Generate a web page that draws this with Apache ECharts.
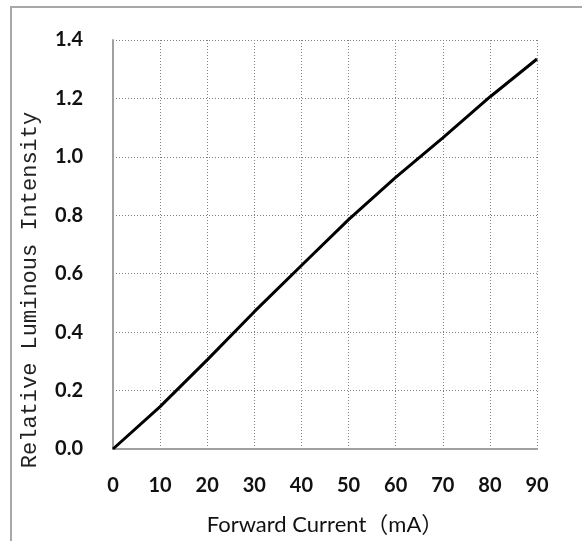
<!DOCTYPE html>
<html>
<head>
<meta charset="utf-8">
<script src="https://cdn.jsdelivr.net/npm/echarts@6/dist/echarts.min.js"></script>
<style>
  html, body { margin: 0; padding: 0; background: #fff; }
  #chart { width: 582px; height: 541px; position: absolute; left: 0; top: 0; }
  #frame { position: absolute; left: 10px; top: 6px; width: 580px; height: 540px;
           border-left: 2px solid #a8a8a8; border-top: 2px solid #a8a8a8; pointer-events: none; }
</style>
</head>
<body>
<div id="chart"></div>
<div id="frame"></div>
<script>
const currentMA = [0, 10, 20, 30, 40, 50, 60, 70, 80, 90];
const relIntensity = [0, 0.145, 0.305, 0.47, 0.628, 0.785, 0.93, 1.065, 1.205, 1.335];
const xTicks = [0, 10, 20, 30, 40, 50, 60, 70, 80, 90];
const yTicks = [0.0, 0.2, 0.4, 0.6, 0.8, 1.0, 1.2, 1.4];
const xTitle = 'Forward Current（mA）';
const yTitle = 'Relative Luminous Intensity';

const chart = echarts.init(document.getElementById('chart'), null, { renderer: 'canvas' });
const gridStyle = { show: true, lineStyle: { color: '#808080', width: 1, type: [1, 2] } };
const labelFont = { fontFamily: 'Lato, "Open Sans", sans-serif', fontSize: 20, fontWeight: 'bold', color: '#111' };

chart.setOption({
  animation: false,
  grid: { left: 113, right: 45, top: 40, bottom: 89 },
  xAxis: {
    type: 'value', min: xTicks[0], max: xTicks[xTicks.length - 1], interval: 10,
    axisLine: { show: true, onZero: false, lineStyle: { color: '#a0a0a0', width: 2 } },
    axisTick: { show: false },
    splitLine: gridStyle,
    axisLabel: Object.assign({ margin: 27 }, labelFont),
    name: xTitle, nameLocation: 'middle', nameGap: 65,
    nameTextStyle: { fontFamily: 'Lato, "Noto Sans CJK SC", sans-serif', fontSize: 22, color: '#111' }
  },
  yAxis: {
    type: 'value', min: yTicks[0], max: yTicks[yTicks.length - 1], interval: 0.2,
    axisLine: { show: true, onZero: false, lineStyle: { color: '#a0a0a0', width: 2 } },
    axisTick: { show: false },
    splitLine: gridStyle,
    axisLabel: Object.assign({ margin: 30, formatter: v => v.toFixed(1) }, labelFont)
  },
  graphic: [{
    type: 'text', x: 30, y: 290, rotation: Math.PI / 2,
    style: { text: yTitle, fontFamily: '"Liberation Mono", "DejaVu Sans Mono", monospace',
             fontSize: 22, fill: '#222', align: 'center', verticalAlign: 'middle' }
  }],
  series: [{
    type: 'line', data: currentMA.map((x, i) => [x, relIntensity[i]]),
    showSymbol: false, smooth: false,
    lineStyle: { color: '#000', width: 3 }
  }]
});
</script>
</body>
</html>
